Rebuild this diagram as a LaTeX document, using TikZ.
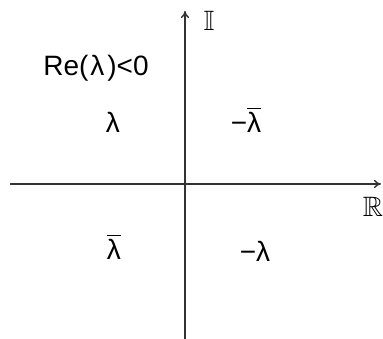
\documentclass[tikz,border=0pt]{standalone}
\usepackage{amssymb}
\usepackage{fontspec}
\setmainfont{Liberation Sans}
\usetikzlibrary{arrows.meta}
\tikzset{
    axisline/.style={->,line width=1.4pt,draw=black!80},
    quadlabel/.style={inner sep=0pt,font=\fontsize{28}{32}\selectfont},
    axislabel/.style={inner sep=0pt,font=\fontsize{28}{32}\selectfont}
}

\begin{document}
\begin{tikzpicture}[x=1pt,y=1pt,>={To[length=7pt,width=8pt]}]
    \useasboundingbox (-185,-155) rectangle (198,184);
    % Axes
    \coordinate (xstart) at (-175,0);
    \coordinate (xend) at (196,0);
    \coordinate (ystart) at (0,-155);
    \coordinate (yend) at (0,173);
    \draw[axisline] (xstart) -- (xend);
    \draw[axisline] (ystart) -- (yend);
    \node[axislabel] (imlabel) at (24,163) {$\mathbb{I}$};
    \node[axislabel] (relabel) at (188,-23) {$\mathbb{R}$};
    % Condition
    \node[quadlabel] (cond) at (-89,116) {Re(\kern2ptλ\kern3pt)<0};
    % Eigenvalues in the quadrants
    \node[quadlabel] (lam) at (-72,62) {λ};
    \node[quadlabel] (mlambar) at (61,64) {−$\overline{\hbox{λ}}$};
    \node[quadlabel] (lambar) at (-71,-63) {$\overline{\hbox{λ}}$};
    \node[quadlabel] (mlam) at (70,-67) {−λ};
\end{tikzpicture}
\end{document}
